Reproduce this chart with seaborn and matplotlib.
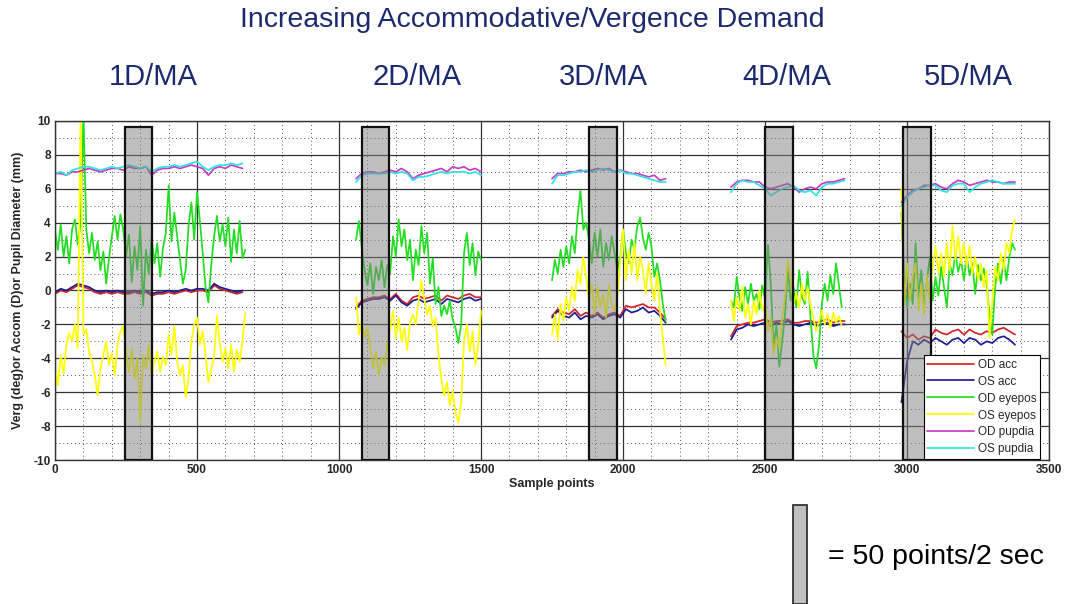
import pandas as pd
import matplotlib
matplotlib.use("Agg")
import matplotlib.pyplot as plt
from matplotlib.patches import Rectangle
from matplotlib.ticker import MultipleLocator
import seaborn as sns


TITLE = "Increasing Accommodative/Vergence Demand"
DEMANDS = ["1D/MA", "2D/MA", "3D/MA", "4D/MA", "5D/MA"]
DEMAND_X = [153, 417, 603, 787, 968]  # label centres, pixels

SERIES = ["OD acc", "OS acc", "OD eyepos", "OS eyepos", "OD pupdia", "OS pupdia"]
COLORS = ["#d42424", "#1c1c98", "#22dd22", "#ffff00", "#c83ac8", "#30e4e4"]

# first sample point of every recording block
SEG_START = [0, 1060, 1750, 2380, 2980]
EYE_STEP = 10   # eyepos read every 10 sample points
SLOW_STEP = 20  # acc / pupil read every 20 sample points

# grey 50-point windows
BOX_START = [245, 1080, 1880, 2500, 2987]
BOX_WIDTH = 97
BOX_TOP = 9.65

OD_ACC = [
    [-0.2, 0.0, -0.1, 0.1, 0.3, 0.2, 0.1, -0.1, -0.2, -0.1, -0.2, -0.1, -0.2, -0.2, -0.1, -0.2, -0.1,
     -0.3, -0.2, -0.2, -0.1, -0.2, -0.1, 0.0, -0.1, 0.0, 0.0, -0.1, 0.3, 0.1, 0.0, -0.1, -0.2, -0.1],
    [-1.0, -0.6, -0.5, -0.4, -0.4, -0.3, -0.5, -0.2, -0.6, -0.8, -0.4, -0.3, -0.5, -0.4, -0.3, -0.6,
     -0.3, -0.4, -0.5, -0.3, -0.2, -0.4, -0.4],
    [-1.5, -1.1, -1.3, -1.4, -1.1, -1.5, -1.3, -1.5, -1.3, -1.6, -1.4, -1.3, -1.5, -0.9, -1.0, -0.9,
     -0.8, -1.0, -1.0, -1.3, -1.7],
    [-2.7, -2.1, -2.0, -1.9, -1.9, -1.8, -1.7, -1.9, -1.8, -1.8, -1.7, -1.9, -1.9, -1.8, -1.8, -1.9,
     -1.8, -1.7, -1.9, -1.8, -1.8],
    [-2.4, -2.8, -2.6, -2.9, -2.7, -2.8, -2.3, -2.5, -2.6, -2.4, -2.3, -2.6, -2.3, -2.5, -2.6, -2.4,
     -2.5, -2.3, -2.2, -2.4, -2.6],
]
OS_ACC = [
    [-0.1, 0.1, 0.0, 0.2, 0.4, 0.3, 0.2, 0.0, -0.1, 0.0, -0.1, 0.0, -0.1, -0.1, 0.0, -0.1, 0.0, -0.2,
     -0.1, -0.1, 0.0, -0.1, 0.0, 0.1, 0.0, 0.1, 0.1, 0.0, 0.4, 0.2, 0.1, 0.0, -0.1, 0.0],
    [-1.1, -0.7, -0.6, -0.5, -0.5, -0.4, -0.6, -0.3, -0.7, -0.9, -0.6, -0.5, -0.7, -0.6, -0.5, -0.8,
     -0.5, -0.6, -0.7, -0.5, -0.4, -0.6, -0.5],
    [-1.6, -1.2, -1.5, -1.6, -1.3, -1.7, -1.5, -1.6, -1.4, -1.7, -1.5, -1.4, -1.6, -1.1, -1.3, -1.2,
     -1.0, -1.3, -1.2, -1.5, -1.9],
    [-2.9, -2.3, -2.2, -2.0, -2.1, -2.0, -1.9, -2.1, -1.9, -2.0, -1.8, -2.0, -2.1, -2.0, -1.9, -2.1,
     -2.0, -1.9, -2.1, -2.0, -2.0],
    [-6.6, -4.2, -3.0, -3.2, -2.9, -3.1, -2.8, -3.0, -3.2, -2.9, -2.8, -3.1, -2.8, -2.9, -3.2, -3.0,
     -3.1, -2.8, -2.7, -2.9, -3.2],
]
OD_EYEPOS = [
    [3.5, 2.4, 3.9, 2.0, 3.2, 1.6, 3.6, 4.2, 2.7, 4.0, 10.5, 3.6, 2.2, 3.4, 1.8, 2.9, 1.2, 2.3, 0.4,
     1.9, 3.2, 4.4, 3.0, 4.5, 3.6, 2.0, 3.3, 0.5, 2.6, 1.2, 3.8, -0.9, 2.4, 1.0, 3.1, 1.6, 2.8, 0.8,
     2.5, 3.4, 6.2, 2.9, 4.6, 3.2, 1.8, 0.4, 1.2, 3.8, 5.2, 3.0, 5.8, 4.1, 2.2, 0.2, -0.7, 1.5, 3.2,
     4.4, 2.9, 3.9, 2.6, 4.3, 1.7, 3.6, 2.2, 4.1, 1.9, 2.4],
    [3.0, 4.1, 2.5, 1.2, 0.3, 1.6, -0.2, 1.4, 0.6, 1.8, 0.2, 1.5, 1.0, 3.2, 2.0, 4.2, 2.6, 3.6, 1.8,
     3.0, 0.6, 2.4, 1.5, 3.8, 2.2, 3.4, 0.4, 1.9, -0.8, 0.2, -1.5, -0.9, -1.4, -0.6, -1.7, -2.2, -3.1,
     -2.0, 2.2, 3.4, 1.5, 2.8, 0.9, 2.3, 1.8],
    [0.6, 1.8, 1.0, 2.4, 1.4, 2.6, 1.6, 3.2, 2.2, 4.4, 5.9, 3.6, 4.0, 3.0, 1.6, 3.4, 2.0, 3.6, 1.4,
     2.8, 1.8, 3.2, 2.2, 1.2, 2.0, 3.6, 2.2, 1.6, 3.0, 2.4, 3.8, 4.3, 3.1, 2.4, 3.4, 2.6, 0.8, 1.6,
     0.6, -0.8, -1.8],
    [-0.6, -1.0, 0.8, -0.4, -1.2, 0.2, -0.8, 0.4, -0.6, -0.2, -1.1, 0.3, -0.5, 2.7, 0.4, -3.4, -2.0,
     -4.5, -3.0, -1.5, 1.4, -0.6, 0.2, -1.0, 1.2, -0.4, -0.8, 1.1, -1.6, -3.8, -4.6, -3.2, -0.8, 0.4,
     -0.6, 0.9, -0.2, 1.6, 0.3, -1.0],
    [4.6, 0.8, -1.0, 0.4, -0.8, 2.8, -0.4, 1.2, -1.0, 0.6, 2.0, -0.6, 0.8, -0.3, 1.4, 0.2, -1.0, 1.6,
     0.9, 2.2, 1.1, 1.8, 0.6, 2.0, 0.9, 1.6, -0.2, 1.5, 0.6, 1.3, 0.4, -1.4, -2.6, 0.2, 1.6, 0.4, 1.8,
     0.6, 2.0, 2.8, 2.4],
]
OS_EYEPOS = [
    [-4.5, -5.6, -3.8, -4.9, -3.2, -2.5, -3.0, -2.0, -3.4, 10.5, -2.6, -2.3, -3.6, -4.2, -5.0, -6.2,
     -4.6, -3.8, -3.0, -4.4, -3.7, -5.0, -3.2, -2.4, -2.1, -3.6, -4.8, -3.4, -5.2, -4.0, -7.8, -3.8,
     -4.6, -3.2, -5.0, -4.2, -3.6, -4.8, -3.9, -4.4, -2.6, -3.8, -2.1, -4.2, -5.0, -4.4, -6.3, -5.2,
     -3.0, -2.0, -1.6, -3.2, -2.4, -3.8, -5.4, -4.6, -3.9, -1.5, -3.1, -4.2, -3.4, -4.6, -3.2, -4.8,
     -3.5, -4.2, -3.0, -1.3],
    [-0.4, -2.6, -1.8, -2.8, -2.2, -3.4, -4.6, -3.6, -5.0, -3.9, -4.4, -3.2, -2.2, -1.2, -2.8, -1.6,
     -3.0, -2.2, -3.5, -1.9, -1.4, -2.0, -0.6, 0.6, -0.5, -1.4, -0.9, -2.1, -1.6, -3.8, -5.2, -6.2,
     -5.4, -6.8, -5.9, -7.2, -7.8, -6.6, -3.0, -2.0, -3.6, -2.4, -4.4, -3.2, -1.2],
    [-2.6, -1.4, -2.9, -0.8, -1.8, -0.4, -1.2, 0.2, -0.6, 1.2, 0.4, 2.0, 0.8, -0.6, 0.4, -1.4, 0.2,
     -1.0, -0.2, -1.6, 0.3, -0.8, -1.2, -0.4, 1.8, 3.6, 0.6, 2.4, 1.0, 2.8, 0.6, 2.0, 1.2, -0.2, 1.6,
     0.4, -0.6, 1.0, -1.2, -2.8, -4.4],
    [-0.6, -1.8, -0.4, -1.2, 0.2, -1.6, -0.8, -2.0, -0.6, -1.4, 0.0, -1.2, -0.8, -2.4, -1.6, -3.8,
     -2.8, -3.4, -1.6, -0.4, 1.8, 0.6, -0.8, -0.2, -1.0, 0.4, -0.6, 0.2, -0.9, -1.6, -2.4, -1.8, -1.2,
     -2.0, -1.4, -2.2, -1.3, -1.9, -1.5, -2.1],
    [6.0, -0.8, 1.6, -0.6, 0.8, 1.6, -1.2, 0.4, -1.4, 0.9, -0.6, 1.4, 2.6, 1.0, 2.2, 0.8, 2.8, 1.2,
     3.8, 1.8, 3.2, 1.6, 2.8, 1.4, 2.6, 1.0, 2.0, 0.6, 1.6, 0.2, 1.2, -2.8, -0.6, 1.4, 0.6, 2.2, 1.2,
     2.8, 2.2, 3.6, 4.2],
]
OD_PUPDIA = [
    [6.9, 6.9, 6.8, 7.0, 7.0, 7.1, 7.2, 7.1, 7.0, 7.1, 7.2, 7.2, 7.1, 7.3, 7.2, 7.2, 7.3, 6.8, 7.1,
     7.2, 7.2, 7.3, 7.2, 7.3, 7.4, 7.3, 7.2, 6.8, 7.2, 7.3, 7.2, 7.4, 7.3, 7.2],
    [6.6, 6.9, 7.0, 7.0, 6.9, 7.0, 7.1, 7.0, 7.2, 7.0, 6.6, 6.8, 6.9, 7.0, 7.1, 7.2, 7.0, 7.3, 7.2,
     7.3, 7.1, 7.2, 7.0],
    [6.6, 6.9, 6.9, 7.0, 7.0, 7.1, 7.0, 7.1, 7.2, 7.1, 7.2, 7.0, 7.1, 7.0, 6.9, 6.9, 6.8, 6.7, 6.8,
     6.5, 6.6],
    [6.1, 6.4, 6.5, 6.5, 6.4, 6.4, 6.1, 6.0, 6.1, 6.2, 6.3, 6.1, 5.8, 6.0, 6.1, 6.0, 6.3, 6.4, 6.4,
     6.5, 6.6],
    [5.2, 5.6, 5.9, 6.0, 6.2, 6.2, 6.3, 6.1, 6.0, 6.3, 6.5, 6.4, 6.2, 6.3, 6.4, 6.5, 6.4, 6.4, 6.3,
     6.4, 6.4],
]
OS_PUPDIA = [
    [6.9, 7.0, 6.8, 7.1, 7.2, 7.3, 7.3, 7.2, 7.1, 7.2, 7.3, 7.2, 7.3, 7.4, 7.3, 7.2, 7.3, 7.0, 7.2,
     7.3, 7.3, 7.4, 7.3, 7.4, 7.5, 7.6, 7.3, 7.1, 7.3, 7.4, 7.4, 7.5, 7.4, 7.5],
    [6.4, 6.8, 6.9, 6.9, 6.9, 6.9, 7.0, 6.9, 7.0, 6.9, 6.5, 6.7, 6.7, 6.8, 6.9, 7.0, 6.9, 7.0, 7.0,
     7.0, 6.9, 7.0, 6.8],
    [6.3, 6.8, 6.8, 6.9, 7.0, 7.0, 7.1, 7.0, 7.1, 7.2, 7.1, 7.0, 7.1, 6.9, 6.9, 6.8, 6.7, 6.6, 6.5,
     6.4, 6.4],
    [5.8, 6.3, 6.5, 6.4, 6.4, 6.2, 6.0, 5.6, 5.8, 6.0, 6.1, 6.2, 5.9, 5.8, 5.9, 5.6, 6.1, 6.3, 6.3,
     6.4, 6.5],
    [5.0, 5.5, 5.8, 6.0, 6.1, 6.2, 6.2, 5.9, 5.8, 6.2, 6.3, 6.3, 5.8, 6.1, 6.3, 6.4, 6.5, 6.4, 6.3,
     6.3, 6.3],
]


def build_frame():
	rows = []
	sources = [
		(SERIES[0], OD_ACC, SLOW_STEP),
		(SERIES[1], OS_ACC, SLOW_STEP),
		(SERIES[2], OD_EYEPOS, EYE_STEP),
		(SERIES[3], OS_EYEPOS, EYE_STEP),
		(SERIES[4], OD_PUPDIA, SLOW_STEP),
		(SERIES[5], OS_PUPDIA, SLOW_STEP),
	]
	for name, segments, step in sources:
		for k, (start, values) in enumerate(zip(SEG_START, segments)):
			for i, v in enumerate(values):
				rows.append({"sample": start + i * step, "value": v, "series": name, "block": k})
	return pd.DataFrame(rows)


def main():
	sns.set_style("white")
	plt.rcParams["font.family"] = ["Liberation Sans", "DejaVu Sans"]
	plt.rcParams["axes.unicode_minus"] = False

	df = build_frame()
	fig = plt.figure(figsize=(10.75, 6.04), dpi=100)
	ax = fig.add_axes([0.0512, 0.2384, 0.9247, 0.5613])

	sns.lineplot(
		data=df, x="sample", y="value", hue="series", units="block",
		estimator=None, sort=False, hue_order=SERIES,
		palette=dict(zip(SERIES, COLORS)), linewidth=1.25, ax=ax
	)

	for x0 in BOX_START:
		ax.add_patch(Rectangle((x0, -10), BOX_WIDTH, BOX_TOP + 10, facecolor="#808080",
							   alpha=0.5, edgecolor="none", zorder=3))
		ax.add_patch(Rectangle((x0, -10), BOX_WIDTH, BOX_TOP + 10, facecolor="none",
							   edgecolor="#111111", linewidth=1.6, zorder=4))

	ax.set_xlim(0, 3500)
	ax.set_ylim(-10, 10)
	ax.xaxis.set_major_locator(MultipleLocator(500))
	ax.xaxis.set_minor_locator(MultipleLocator(100))
	ax.yaxis.set_major_locator(MultipleLocator(2))
	ax.yaxis.set_minor_locator(MultipleLocator(1))
	ax.grid(which="major", color="#333333", linewidth=0.9, linestyle="-")
	ax.grid(which="minor", color="#555555", linewidth=0.7, linestyle=(0, (1, 3)))
	ax.set_axisbelow(True)
	ax.tick_params(which="both", direction="in", length=0, labelsize=8.5, pad=3)
	for lab in ax.get_xticklabels() + ax.get_yticklabels():
		lab.set_fontweight("bold")
	for spine in ax.spines.values():
		spine.set_color("#333333")
		spine.set_linewidth(1.0)

	ax.set_xlabel("Sample points", fontsize=9, fontweight="bold", labelpad=1)
	ax.set_ylabel("Verg (deg)or Accom (D)or Pupil Diameter (mm)", fontsize=9,
				  fontweight="bold", labelpad=7)

	sns.move_legend(
		ax, "lower right", bbox_to_anchor=(0.991, 0.003), title=None,
		frameon=True, fancybox=False, framealpha=1, edgecolor="black",
		fontsize=8.5, handlelength=4.0, labelspacing=0.42, borderaxespad=0,
		borderpad=0.3, handletextpad=0.3
	)
	leg = ax.get_legend()
	leg.get_frame().set_linewidth(0.8)
	leg.set_zorder(6)

	navy = "#1b2a6e"
	fig.text(532 / 1075, 1 - 20 / 604, TITLE, ha="center", va="center",
			 fontsize=20.5, color=navy)
	for label, xp in zip(DEMANDS, DEMAND_X):
		fig.text(xp / 1075, 1 - 77 / 604, label, ha="center", va="center",
				 fontsize=21, color=navy)

	fig.add_artist(Rectangle((793 / 1075, 0), 14 / 1075, 99 / 604, transform=fig.transFigure,
							 facecolor="#c0c0c0", edgecolor="#222222", linewidth=1.2))
	fig.text(828 / 1075, 1 - 557 / 604, "= 50 points/2 sec", ha="left", va="center",
			 fontsize=20.5, color="black")

	fig.savefig("out.png", dpi=100)


if __name__ == "__main__":
	main()
